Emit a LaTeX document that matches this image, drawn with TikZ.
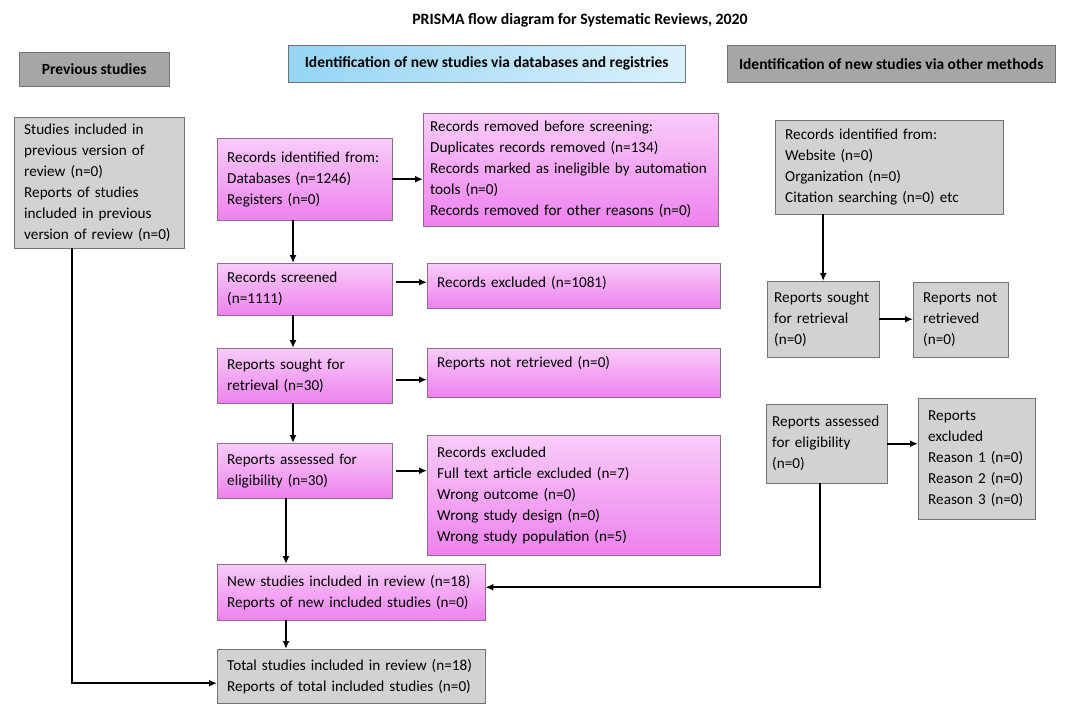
\documentclass[tikz,border=0pt]{standalone}
\usepackage{fontspec}
\setmainfont{Carlito}
\usetikzlibrary{arrows.meta}

\definecolor{pinkTop}{RGB}{249,204,249}
\definecolor{pinkBot}{RGB}{238,130,238}
\definecolor{pinkLine}{RGB}{140,110,140}
\definecolor{blueL}{RGB}{150,212,245}
\definecolor{blueR}{RGB}{218,241,252}
\definecolor{greyHead}{RGB}{166,166,166}
\definecolor{greyBox}{RGB}{210,210,210}
\definecolor{greyLine}{RGB}{115,115,115}

\tikzset{
  txt/.style={font=\fontsize{15.2}{21}\selectfont, align=left, inner xsep=10pt, inner ysep=2pt, anchor=north west},
  sz/.style 2 args={minimum width=#1pt, minimum height=#2pt, text width={(#1-20)*1pt}},
  pinkbox/.style={txt, draw=pinkLine, top color=pinkTop, bottom color=pinkBot},
  greybox/.style={txt, draw=greyLine, fill=greyBox},
  head/.style={font=\fontsize{15.5}{18}\selectfont\bfseries, anchor=north west, draw=greyLine, inner sep=0pt},
  arr/.style={-{Latex[length=8pt,width=7pt]}, line width=2pt},
}

\begin{document}
\begin{tikzpicture}[x=1pt, y=-1pt]
  \useasboundingbox (0,0) rectangle (1066,704);

  % title and column heads
  \node[font=\fontsize{15.8}{18}\selectfont\bfseries] (title) at (580,20) {PRISMA flow diagram for Systematic Reviews, 2020};
  \node[head, fill=greyHead, minimum width=150pt, minimum height=34pt] (hprev) at (19,52) {Previous studies};
  \node[head, left color=blueL, right color=blueR, minimum width=397pt, minimum height=37pt] (hdb) at (288,45) {Identification of new studies via databases and registries};
  \node[head, fill=greyHead, minimum width=328pt, minimum height=37pt] (hoth) at (727,45) {Identification of new studies via other methods};

  % previous studies
  \node[greybox, sz={170}{131}] (prev) at (14,117) {Studies included in\\previous version of\\review (n=0)\\Reports of studies\\included in previous\\version of review (n=0)};

  % databases and registries
  \node[pinkbox, sz={175}{82}] (idf) at (217,138) {Records identified from:\\Databases (n=1246)\\Registers (n=0)};
  \node[pinkbox, sz={295}{113}, inner xsep=7pt, text width=281pt] (rem) at (423,113) {Records removed before screening:\\Duplicates records removed (n=134)\\Records marked as ineligible by automation\\tools (n=0)\\Records removed for other reasons (n=0)};
  \node[pinkbox, sz={175}{52}] (scr) at (217,263) {Records screened\\(n=1111)};
  \node[pinkbox, sz={293}{45}, text depth=8pt] (exc) at (427,263) {Records excluded (n=1081)};
  \node[pinkbox, sz={175}{55}] (srt) at (217,348) {Reports sought for\\retrieval (n=30)};
  \node[pinkbox, sz={293}{49}, text depth=22pt] (nrt) at (427,348) {Reports not retrieved (n=0)};
  \node[pinkbox, sz={175}{55}] (ase) at (217,443) {Reports assessed for\\eligibility (n=30)};
  \node[pinkbox, sz={293}{120}] (elx) at (427,435) {Records excluded\\Full text article excluded (n=7)\\Wrong outcome (n=0)\\Wrong study design (n=0)\\Wrong study population (n=5)};
  \node[pinkbox, sz={268}{56}] (new) at (217,564) {New studies included in review (n=18)\\Reports of new included studies (n=0)};
  \node[greybox, sz={268}{54}] (tot) at (217,649) {Total studies included in review (n=18)\\Reports of total included studies (n=0)};

  % other methods
  \node[greybox, sz={228}{94}] (oid) at (775,120) {Records identified from:\\Website (n=0)\\Organization (n=0)\\Citation searching (n=0) etc};
  \node[greybox, sz={112}{76}, inner xsep=7pt, text width=98pt] (osr) at (767,281) {Reports sought\\for retrieval\\(n=0)};
  \node[greybox, sz={95}{75}] (onr) at (913,282) {Reports not\\retrieved\\(n=0)};
  \node[greybox, sz={121}{79}, inner xsep=6pt, text width=109pt] (oas) at (766,404) {Reports assessed\\for eligibility\\(n=0)};
  \node[greybox, sz={117}{121}] (oex) at (918,398) {Reports\\excluded\\Reason 1 (n=0)\\Reason 2 (n=0)\\Reason 3 (n=0)};

  \coordinate (colA) at (293,0);
  \coordinate (colB) at (286,0);

  % arrows
  \draw[arr] (idf.south -| colA) -- (scr.north -| colA);
  \draw[arr] (scr.south -| colA) -- (srt.north -| colA);
  \draw[arr] (srt.south -| colA) -- (ase.north -| colA);
  \draw[arr] (ase.south -| colB) -- (new.north -| colB);
  \draw[arr] (new.south -| colB) -- (tot.north -| colB);
  \draw[arr] (idf.east) -- (idf.east -| rem.west);
  \draw[arr, shorten <=4pt] ([yshift=7pt]scr.east) -- ([yshift=7pt]scr.east -| exc.west);
  \draw[arr, shorten <=4pt] ([yshift=-4pt]srt.east) -- ([yshift=-4pt]srt.east -| nrt.west);
  \draw[arr, shorten <=4pt] (ase.east) -- (ase.east -| elx.west);
  \draw[arr] (oid.south -| osr.north) -- (osr.north);
  \draw[arr] (osr.east) -- (osr.east -| onr.west);
  \draw[arr] (oas.east) -- (oas.east -| oex.west);
  \draw[arr] ([xshift=-7pt]oas.south) |- ([yshift=5pt]new.east);
  \draw[arr] ([xshift=-27pt]prev.south) |- ([yshift=-7pt]tot.west);
\end{tikzpicture}
\end{document}
